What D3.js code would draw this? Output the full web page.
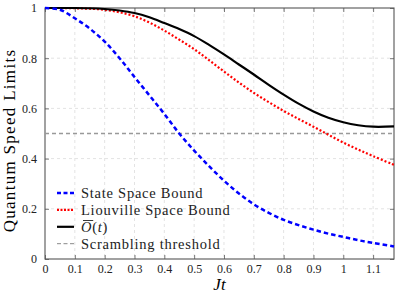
<!DOCTYPE html>
<html>
<head>
<meta charset="utf-8">
<script src="https://cdn.jsdelivr.net/npm/d3@7"></script>
<style>
  body { margin: 0; background: #fff; }
  svg text { font-family: "Liberation Serif", "DejaVu Serif", serif; }
</style>
</head>
<body>
<div id="chart"></div>
<script>
// values
var times = [0, 0.05, 0.1, 0.15, 0.2, 0.25, 0.3, 0.35, 0.4, 0.45, 0.5, 0.55, 0.6, 0.65, 0.7, 0.75, 0.8, 0.85, 0.9, 0.95, 1.0, 1.05, 1.1, 1.17];
var stateBound = [1, 0.993, 0.959, 0.918, 0.866, 0.8, 0.725, 0.652, 0.578, 0.5, 0.432, 0.37, 0.312, 0.261, 0.218, 0.184, 0.156, 0.135, 0.117, 0.101, 0.088, 0.075, 0.064, 0.05];
var liouvilleBound = [1, 1, 0.999, 0.997, 0.993, 0.983, 0.967, 0.942, 0.91, 0.874, 0.836, 0.792, 0.747, 0.703, 0.662, 0.625, 0.59, 0.558, 0.527, 0.495, 0.464, 0.436, 0.41, 0.375];
var otoc = [1, 1, 1, 0.999, 0.996, 0.99, 0.98, 0.963, 0.94, 0.916, 0.888, 0.853, 0.815, 0.775, 0.735, 0.694, 0.655, 0.619, 0.588, 0.563, 0.545, 0.533, 0.527, 0.528];
var threshold = 0.5;
var xTicks = [0, 0.1, 0.2, 0.3, 0.4, 0.5, 0.6, 0.7, 0.8, 0.9, 1, 1.1];
var yTicks = [0, 0.2, 0.4, 0.6, 0.8, 1];
var legendLabels = ["State Space Bound", "Liouville Space Bound", "O(t)", "Scrambling threshold"];

var margin = {top: 8, right: 1, bottom: 36, left: 45};
var width = 395 - margin.left - margin.right;
var height = 295 - margin.top - margin.bottom;

var svg = d3.select("#chart").append("svg")
    .attr("width", 395)
    .attr("height", 295)
    .append("g")
    .attr("transform", "translate(" + margin.left + "," + margin.top + ")");

var x = d3.scaleLinear().domain([0, 1.17]).range([0, width]);
var y = d3.scaleLinear().domain([0, 1]).range([height, 0]);

// grid
svg.append("g").selectAll("line")
    .data(xTicks.slice(1))
    .enter().append("line")
    .attr("x1", d => x(d)).attr("x2", d => x(d))
    .attr("y1", 0).attr("y2", height)
    .style("stroke", "#e3e3e3").style("stroke-dasharray", "3,3");
svg.append("g").selectAll("line")
    .data(yTicks.slice(1, -1))
    .enter().append("line")
    .attr("x1", 0).attr("x2", width)
    .attr("y1", d => y(d)).attr("y2", d => y(d))
    .style("stroke", "#e3e3e3").style("stroke-dasharray", "3,3");

// axes, ticks pointing inward on all four sides
var fmt = d => String(+d.toFixed(1));
svg.append("g")
    .attr("transform", "translate(0," + height + ")")
    .call(d3.axisBottom(x).tickValues(xTicks).tickSize(-4).tickPadding(5).tickFormat(fmt));
svg.append("g")
    .call(d3.axisLeft(y).tickValues(yTicks).tickSize(-4).tickPadding(8).tickFormat(fmt));
svg.append("g")
    .call(d3.axisTop(x).tickValues(xTicks).tickSize(-4).tickFormat(""));
svg.append("g")
    .attr("transform", "translate(" + width + ",0)")
    .call(d3.axisRight(y).tickValues(yTicks).tickSize(-4).tickFormat(""));

svg.selectAll(".domain").remove();
svg.selectAll(".tick line").style("stroke", "#777");
svg.selectAll(".tick text")
    .style("font-family", "Liberation Serif, serif")
    .style("font-size", "12px")
    .style("fill", "#222");

svg.append("rect")
    .attr("width", width).attr("height", height)
    .style("fill", "none").style("stroke", "#555").style("stroke-width", 1.1);

// threshold
svg.append("line")
    .attr("x1", x(0)).attr("x2", width)
    .attr("y1", y(threshold)).attr("y2", y(threshold))
    .style("stroke", "#999").style("stroke-width", 1.3).style("stroke-dasharray", "4,3");

var line = d3.line()
    .x(d => x(d[0]))
    .y(d => y(d[1]))
    .curve(d3.curveCatmullRom);

function series(vals) { return times.map((t, i) => [t, vals[i]]); }

svg.append("path").datum(series(liouvilleBound))
    .attr("d", line)
    .style("fill", "none").style("stroke", "red").style("stroke-width", 2.2)
    .style("stroke-dasharray", "2,2");
svg.append("path").datum(series(otoc))
    .attr("d", line)
    .style("fill", "none").style("stroke", "black").style("stroke-width", 2.2);
svg.append("path").datum(series(stateBound))
    .attr("d", line)
    .style("fill", "none").style("stroke", "blue").style("stroke-width", 2.5)
    .style("stroke-dasharray", "4.5,3");

// legend
var legendStyles = [
    {color: "blue", width: 2.5, dash: "4,2.5"},
    {color: "red", width: 2.2, dash: "2,1.5"},
    {color: "black", width: 2.2, dash: null},
    {color: "#888", width: 1, dash: "4,2.5"}
];
var legend = svg.append("g").attr("transform", "translate(12,185)");
legendLabels.forEach(function(lab, i) {
    var g = legend.append("g").attr("transform", "translate(0," + (i * 16.9) + ")");
    g.append("line")
        .attr("x1", 0).attr("x2", 17)
        .style("stroke", legendStyles[i].color)
        .style("stroke-width", legendStyles[i].width)
        .style("stroke-dasharray", legendStyles[i].dash);
    var t = g.append("text")
        .attr("x", 24).attr("y", 5)
        .style("font-size", "14.5px")
        .style("letter-spacing", "0.75px")
        .style("fill", "#222");
    if (i == 2) {
        t.append("tspan").text("O").style("font-style", "italic");
        t.append("tspan").text("(");
        t.append("tspan").text("t").style("font-style", "italic");
        t.append("tspan").text(")");
        // overline over the O
        var w = t.node().getSubStringLength(0, 1);
        g.append("line")
            .attr("x1", 26).attr("x2", 25 + w)
            .attr("y1", -6.3).attr("y2", -6.3)
            .style("stroke", "#222").style("stroke-width", 0.9);
    } else {
        t.text(lab);
    }
});

// axis labels
svg.append("text")
    .attr("x", width / 2).attr("y", height + 31)
    .attr("text-anchor", "middle")
    .style("font-size", "17px").style("font-style", "italic")
    .text("Jt");
svg.append("text")
    .attr("transform", "translate(-30," + (height / 2 + 7) + ") rotate(-90)")
    .attr("text-anchor", "middle")
    .style("font-size", "17px")
    .style("letter-spacing", "1.3px")
    .text("Quantum Speed Limits");
</script>
</body>
</html>
